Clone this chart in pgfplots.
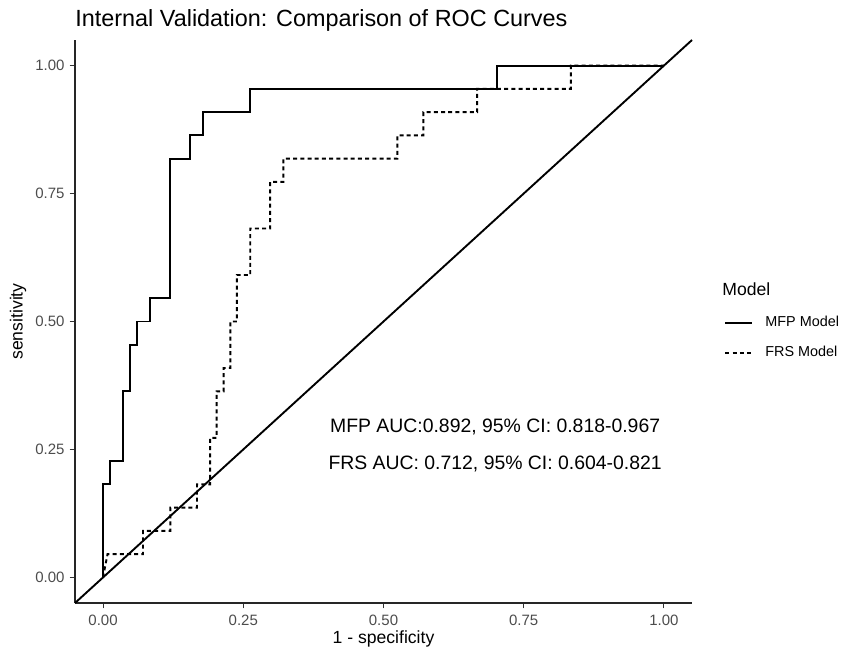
\documentclass[border=0pt]{standalone}
\usepackage{fontspec}
\setmainfont{Liberation Sans}
\usepackage{pgfplots}
\pgfplotsset{compat=1.18}
\begin{document}
\begin{tikzpicture}
\begin{axis}[
  at={(0,0)}, anchor=south west,
  scale only axis, width=308.5pt, height=281.5pt,
  xmin=-0.05, xmax=1.05, ymin=-0.05, ymax=1.05,
  axis x line*=bottom, axis y line*=left,
  axis line style={black!85, line width=0.7pt},
  xtick={0,0.25,0.5,0.75,1}, ytick={0,0.25,0.5,0.75,1},
  xticklabels={0.00,0.25,0.50,0.75,1.00},
  yticklabels={0.00,0.25,0.50,0.75,1.00},
  tick align=outside, major tick length=2.7pt,
  tick style={black!80, line width=0.5pt},
  ticklabel style={font=\fontsize{7.5}{9}\selectfont, text=black!70},
  yticklabel style={xshift=1pt},
  clip=false,
  legend style={at={(rel axis cs:1.052,0.4707)}, anchor=west, draw=none, fill=none,
    inner sep=0pt, font=\fontsize{7.2}{8.6}\selectfont, row sep=8pt,
    nodes={inner sep=0pt, text height=5.3pt, text depth=1.5pt}},
  legend cell align=left,
  legend image code/.code={\draw[#1] (0pt,0pt) -- (13.5pt,0pt);},
  legend style={column sep=6pt},
]
\addplot[black, line width=0.95pt, forget plot] coordinates {(-0.05,-0.05) (1.05,1.05)};
\addplot[black, line width=0.95pt] coordinates {
(0,0) (0,0.1818) (0.013,0.1818) (0.013,0.2273) (0.0356,0.2273) (0.0356,0.3636)
(0.0487,0.3636) (0.0487,0.4545) (0.0606,0.4545) (0.0606,0.5) (0.0843,0.5) (0.0843,0.5455)
(0.12,0.5455) (0.12,0.8182) (0.1556,0.8182) (0.1556,0.8636) (0.179,0.8636) (0.179,0.9091)
(0.2625,0.9091) (0.2625,0.9545) (0.703,0.9545) (0.703,1) (1,1)};
\addlegendentry{MFP Model}
\addplot[black, line width=0.95pt, dash pattern=on 2pt off 1.6pt] coordinates {
(0,0) (0.008,0.0455) (0.0713,0.0455) (0.0713,0.0909) (0.12,0.0909) (0.12,0.1364)
(0.1675,0.1364) (0.1675,0.1818) (0.191,0.1818) (0.191,0.2727) (0.2025,0.2727) (0.2025,0.3636)
(0.215,0.3636) (0.215,0.4091) (0.227,0.4091) (0.227,0.5) (0.2385,0.5) (0.2385,0.5909)
(0.2625,0.5909) (0.2625,0.6818) (0.298,0.6818) (0.298,0.7727) (0.3215,0.7727) (0.3215,0.8182)
(0.5246,0.8182) (0.5246,0.8636) (0.571,0.8636) (0.571,0.9091) (0.667,0.9091) (0.667,0.9545)
(0.834,0.9545) (0.834,1) (1,1)};
\addlegendentry{FRS Model}
\node[font=\fontsize{9.7}{11}\selectfont, anchor=center] at (axis cs:0.699,0.294) {MFP AUC:0.892, 95\% CI: 0.818-0.967};
\node[font=\fontsize{9.7}{11}\selectfont, anchor=center] at (axis cs:0.699,0.2215) {FRS AUC: 0.712, 95\% CI: 0.604-0.821};
\node[font=\fontsize{8.8}{10}\selectfont, anchor=center] at (rel axis cs:0.5,-0.0640) {1 - specificity};
\node[font=\fontsize{8.8}{10}\selectfont, anchor=center, rotate=90] at (rel axis cs:-0.0924,0.5) {sensitivity};
\node[font=\fontsize{11.7}{13}\selectfont, anchor=base west, inner sep=0pt] at (rel axis cs:0,1.0231) {Internal Validation: Comparison of ROC Curves};
\node[font=\fontsize{8.8}{10}\selectfont, anchor=west, inner sep=0pt] at (rel axis cs:1.0486,0.5577) {Model};
\end{axis}
\pgfresetboundingbox
\path[use as bounding box] (-37.5pt,-25.5pt) rectangle (384.5pt,301.5pt);
\end{tikzpicture}
\end{document}
